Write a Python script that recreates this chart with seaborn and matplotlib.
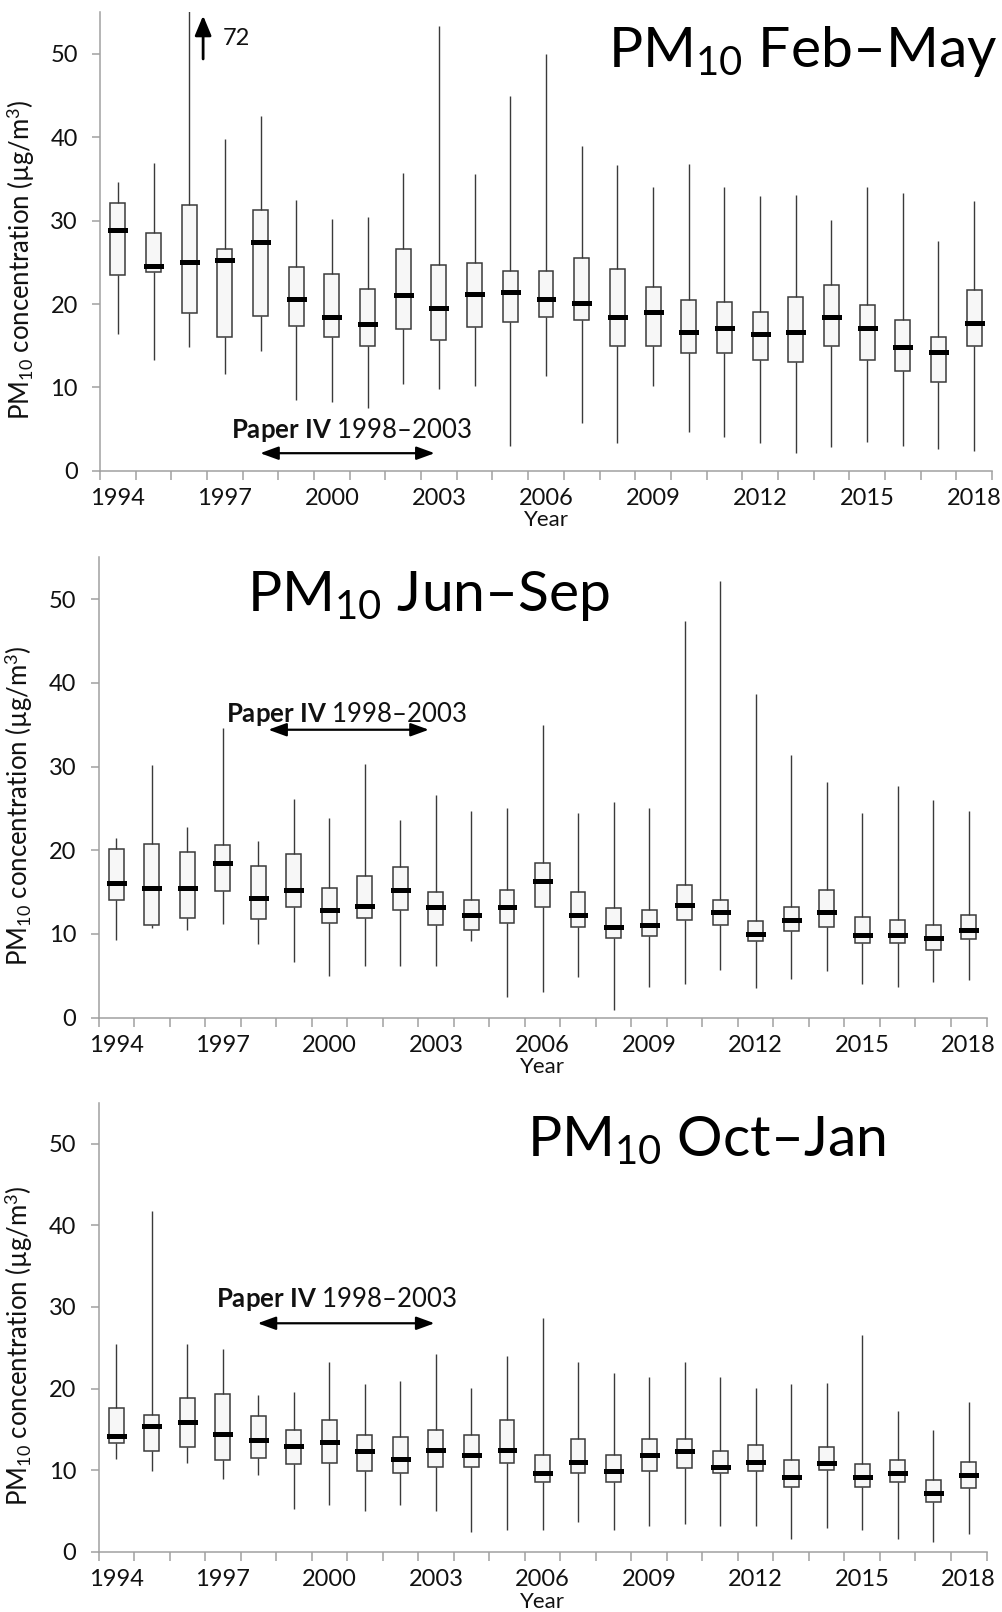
import numpy as np
import pandas as pd
import matplotlib
matplotlib.use("Agg")
import matplotlib.pyplot as plt
import seaborn as sns

years = [str(y) for y in range(1994, 2019)]
label_years = [str(y) for y in range(1994, 2019, 3)]

# Feb–May distribution summaries (µg/m3)
febmay_min = [16.4, 13.3, 14.9, 11.6, 14.4, 8.5, 8.2, 7.5, 10.4, 9.8, 10.2, 3.0, 11.4,
              5.7, 3.3, 10.2, 4.6, 4.0, 3.3, 2.1, 2.9, 3.4, 3.0, 2.6, 2.4]
febmay_q1 = [23.5, 23.9, 18.9, 16.0, 18.6, 17.4, 16.0, 15.0, 17.0, 15.7, 17.2, 17.8, 18.4,
             18.1, 15.0, 15.0, 14.1, 14.1, 13.3, 13.0, 15.0, 13.3, 12.0, 10.7, 15.0]
febmay_med = [28.9, 24.6, 25.0, 25.3, 27.4, 20.6, 18.5, 17.6, 21.1, 19.5, 21.2, 21.4, 20.6,
              20.1, 18.5, 19.0, 16.7, 17.1, 16.4, 16.7, 18.5, 17.1, 14.9, 14.2, 17.7]
febmay_q3 = [32.1, 28.5, 31.9, 26.6, 31.3, 24.4, 23.6, 21.8, 26.6, 24.7, 24.9, 24.0, 24.0,
             25.5, 24.2, 22.1, 20.5, 20.2, 19.1, 20.9, 22.3, 19.9, 18.1, 16.0, 21.7]
febmay_max = [34.6, 36.9, 72.0, 39.8, 42.5, 32.5, 30.2, 30.4, 35.7, 53.3, 35.6, 45.0, 50.0,
              39.0, 36.7, 34.0, 36.8, 34.0, 33.0, 33.1, 30.1, 34.0, 33.3, 27.6, 32.3]

# Jun–Sep
junsep_min = [9.3, 10.7, 10.4, 11.2, 8.8, 6.6, 5.0, 6.1, 6.1, 6.1, 9.2, 2.5, 3.0,
              4.8, 0.9, 3.7, 4.0, 5.7, 3.5, 4.6, 5.6, 4.0, 3.7, 4.3, 4.5]
junsep_q1 = [14.0, 11.1, 11.9, 15.1, 11.8, 13.2, 11.3, 11.9, 12.9, 11.1, 10.4, 11.3, 13.2,
             10.8, 9.5, 9.8, 11.6, 11.0, 9.2, 10.3, 10.8, 8.9, 8.9, 8.1, 9.4]
junsep_med = [16.1, 15.5, 15.5, 18.5, 14.3, 15.3, 12.8, 13.3, 15.2, 13.2, 12.2, 13.2, 16.3,
              12.2, 10.8, 11.0, 13.4, 12.6, 10.0, 11.7, 12.6, 9.9, 9.9, 9.5, 10.4]
junsep_q3 = [20.2, 20.7, 19.8, 20.6, 18.1, 19.6, 15.5, 16.9, 18.0, 15.0, 14.0, 15.2, 18.5,
             15.0, 13.1, 12.9, 15.8, 14.0, 11.5, 13.2, 15.3, 12.0, 11.6, 11.0, 12.3]
junsep_max = [21.5, 30.2, 22.8, 34.6, 21.1, 26.1, 23.8, 30.3, 23.6, 26.6, 24.7, 25.0, 35.0,
              24.4, 25.8, 25.0, 47.4, 52.2, 38.7, 31.4, 28.1, 24.4, 27.7, 26.0, 24.7]

# Oct–Jan
octjan_min = [11.4, 9.9, 10.9, 8.9, 9.4, 5.2, 5.7, 5.0, 5.7, 5.0, 2.4, 2.6, 2.7,
              3.6, 2.7, 3.1, 3.4, 3.1, 3.1, 1.6, 2.9, 2.7, 1.6, 1.2, 2.2]
octjan_q1 = [13.3, 12.4, 12.8, 11.2, 11.5, 10.7, 10.9, 9.9, 9.7, 10.4, 10.4, 10.9, 8.6,
             9.7, 8.6, 9.9, 10.2, 9.6, 9.9, 7.9, 10.0, 7.9, 8.6, 6.1, 7.8]
octjan_med = [14.2, 15.4, 15.9, 14.4, 13.7, 12.9, 13.4, 12.3, 11.4, 12.5, 11.8, 12.5, 9.7,
              11.0, 9.9, 11.8, 12.3, 10.4, 11.0, 9.1, 10.9, 9.2, 9.6, 7.2, 9.4]
octjan_q3 = [17.6, 16.7, 18.9, 19.3, 16.6, 14.9, 16.1, 14.3, 14.0, 14.9, 14.3, 16.1, 11.8,
             13.8, 11.8, 13.8, 13.8, 12.3, 13.1, 11.2, 12.8, 10.7, 11.3, 8.8, 11.0]
octjan_max = [25.5, 41.8, 25.5, 24.9, 19.2, 19.6, 23.2, 20.6, 20.9, 24.2, 20.1, 24.0, 28.7,
              23.2, 21.9, 21.4, 23.2, 21.4, 20.1, 20.6, 20.7, 26.6, 17.3, 14.9, 18.3]

sns.set_theme(style="ticks")
plt.rcParams["font.family"] = ["Lato", "DejaVu Sans"]
plt.rcParams["mathtext.fontset"] = "custom"
plt.rcParams["mathtext.rm"] = "Lato"
plt.rcParams["mathtext.it"] = "Lato:italic"
plt.rcParams["mathtext.bf"] = "Lato:bold"

TXT = "#111111"
AXC = "#a0a0a0"
EDGE = "#3a3a3a"
TICK_FS = 17


def long_frame(mn, q1, md, q3, mx):
    rows = []
    for y, a, b, c, d, e in zip(years, mn, q1, md, q3, mx):
        for v in (a, b, c, d, e):
            rows.append((y, v))
    return pd.DataFrame(rows, columns=["year", "value"])


def draw_panel(ax, df, title_pos, title_ha, label_y):
    sns.boxplot(data=df, x="year", y="value", order=years, ax=ax,
                whis=(0, 100), width=0.42, showcaps=False, showfliers=False,
                color="#f7f7f7", linecolor=EDGE, saturation=1, linewidth=1.1,
                whiskerprops=dict(color=EDGE, linewidth=1.0),
                medianprops=dict(color="black", linewidth=3.6,
                                 solid_capstyle="projecting"))
    ax.set_xlim(-0.5, len(years) - 0.5)
    ax.set_ylim(0, 55)
    ax.set_yticks(range(0, 51, 10))
    ax.set_xticks([years.index(y) for y in label_years])
    ax.set_xticklabels(label_years)
    ax.set_xticks(np.arange(-0.5, len(years), 1.0), minor=True)
    ax.tick_params(axis="x", which="major", length=0, pad=12.5, labelsize=TICK_FS,
                   labelcolor=TXT)
    ax.tick_params(axis="x", which="minor", length=6.5, width=1.1, color=AXC,
                   direction="out")
    ax.tick_params(axis="y", length=6, width=1.1, color=AXC, pad=10,
                   labelsize=TICK_FS, labelcolor=TXT)
    for s in ("top", "right"):
        ax.spines[s].set_visible(False)
    for s in ("left", "bottom"):
        ax.spines[s].set_color(AXC)
        ax.spines[s].set_linewidth(1.1)
    ax.set_xlabel("Year", fontsize=16, color=TXT, va="top")
    ax.xaxis.set_label_coords(0.5, label_y)
    ax.set_ylabel(r"PM$_{\mathregular{10}}$ concentration (µg/m$^{\mathregular{3}}$)",
                  fontsize=18.5, color=TXT)
    ax.yaxis.set_label_coords(-0.071, 0.46)
    ax.text(title_pos[0], title_pos[1], title_pos[2], transform=ax.transAxes,
            ha=title_ha, va="baseline", fontsize=41, color="black")


def paper_iv(ax, tx, ty, ay, x0, x1):
    ax.text(tx, ty, r"$\mathbf{Paper\ IV}$ 1998–2003", ha="left", va="center",
            fontsize=18.5, color=TXT)
    ax.annotate("", xy=(x0, ay), xytext=(x1, ay),
                arrowprops=dict(arrowstyle="<|-|>,head_length=0.55,head_width=0.2",
                                mutation_scale=20, color="black", lw=1.6,
                                shrinkA=0, shrinkB=0))


fig = plt.figure(figsize=(10.02, 16.12), dpi=100)
W, H = 1002.0, 1612.0
ax1 = fig.add_axes([100 / W, 1 - 470.7 / H, 892 / W, 458.4 / H])
ax2 = fig.add_axes([98.5 / W, 1 - 1017.5 / H, 888 / W, 460.1 / H])
ax3 = fig.add_axes([98.5 / W, 1 - 1551.7 / H, 888 / W, 448.7 / H])

draw_panel(ax1, long_frame(febmay_min, febmay_q1, febmay_med, febmay_q3, febmay_max),
           (1.006, 0.881, r"PM$_{\mathregular{10}}$ Feb–May"), "right", -0.085)
draw_panel(ax2, long_frame(junsep_min, junsep_q1, junsep_med, junsep_q3, junsep_max),
           (0.167, 0.883, r"PM$_{\mathregular{10}}$ Jun–Sep"), "left", -0.085)
draw_panel(ax3, long_frame(octjan_min, octjan_q1, octjan_med, octjan_q3, octjan_max),
           (0.4826, 0.882, r"PM$_{\mathregular{10}}$ Oct–Jan"), "left", -0.09)

paper_iv(ax1, 3.18, 4.9, 2.1, 3.99, 8.88)
paper_iv(ax2, 3.1, 36.3, 34.4, 4.28, 8.8)
paper_iv(ax3, 2.8, 31.0, 28.0, 3.98, 8.96)

# off-scale maximum for 1996 in Feb–May
ax1.annotate("", xy=(2.39, 54.6), xytext=(2.39, 49.4),
             arrowprops=dict(arrowstyle="-|>,head_length=0.6,head_width=0.25",
                             mutation_scale=20, color="black", lw=2.0,
                             shrinkA=0, shrinkB=0))
ax1.text(2.93, 51.8, str(int(febmay_max[2])), ha="left", va="center",
         fontsize=17, color=TXT)

fig.savefig("out.png", dpi=100)
